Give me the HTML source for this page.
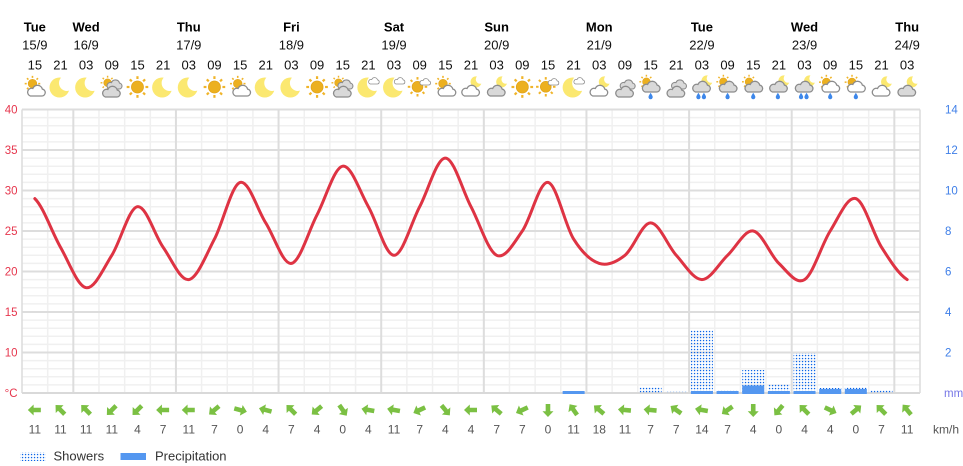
<!DOCTYPE html>
<html><head><meta charset="utf-8"><style>
html,body{margin:0;padding:0;background:#fff;}
svg{display:block;font-family:"Liberation Sans",Arial,sans-serif;}
</style></head><body>
<svg width="963" height="466" viewBox="0 0 963 466" xmlns="http://www.w3.org/2000/svg">
<defs>
<pattern id="dots" patternUnits="userSpaceOnUse" x="0" y="0" width="3" height="3"><rect x="0.9" y="0.9" width="1.3" height="1.3" fill="#0a64e8"/></pattern>
<mask id="mk"><rect x="-5" y="-5" width="40" height="40" fill="#fff"/><circle cx="18.5" cy="8" r="8" fill="#000"/></mask>
<g id="sun"><g stroke="#f0b429" stroke-width="2.2"><line x1="20" y1="12" x2="22.8" y2="12"/><line x1="17.66" y1="17.66" x2="19.64" y2="19.64"/><line x1="12" y1="20" x2="12" y2="22.8"/><line x1="6.34" y1="17.66" x2="4.36" y2="19.64"/><line x1="4" y1="12" x2="1.2" y2="12"/><line x1="6.34" y1="6.34" x2="4.36" y2="4.36"/><line x1="12" y1="4" x2="12" y2="1.2"/><line x1="17.66" y1="6.34" x2="19.64" y2="4.36"/></g><circle cx="12" cy="12" r="6" fill="#ecb01f" stroke="#e0a31a" stroke-width="0.8"/></g>
<g id="moon"><circle cx="11" cy="12.5" r="10" fill="#fbe870" mask="url(#mk)"/></g>
<g id="cw"><path d="M6.5 20H18A3.5 3.5 0 0 0 18.5 13.05A5 5 0 0 0 9 12.5A3.75 3.75 0 0 0 6.5 20Z" fill="#fff" stroke="#8c8c8c" stroke-width="1.3"/></g>
<g id="cg"><path d="M6.5 20H18A3.5 3.5 0 0 0 18.5 13.05A5 5 0 0 0 9 12.5A3.75 3.75 0 0 0 6.5 20Z" fill="#d9d9d9" stroke="#8c8c8c" stroke-width="1.3"/></g>
<g id="drop"><path d="M0 -3.2C1.6 -0.8 2.1 0.3 2.1 1.1A2.1 2.1 0 0 1 -2.1 1.1C-2.1 0.3 -1.6 -0.8 0 -3.2Z" fill="#3d87ea"/></g>
<g id="iSun"><use href="#sun"/></g>
<g id="iMoon"><use href="#moon"/></g>
<g id="iSunW"><use href="#sun" transform="translate(1,0) scale(0.72)"/><use href="#cw" transform="translate(1,1)"/></g>
<g id="iSunG2"><use href="#sun" transform="translate(0,0) scale(0.65)"/><use href="#cg" transform="translate(4,-3) scale(0.85)"/><use href="#cg" transform="translate(-1,2)"/></g>
<g id="iCloudG2"><use href="#cg" transform="translate(4,-3) scale(0.85)"/><use href="#cg" transform="translate(-1,2)"/></g>
<g id="iSunS"><use href="#sun" transform="translate(-1,1) scale(0.9)"/><use href="#cw" transform="translate(10,-2) scale(0.6)"/></g>
<g id="iMoonS"><use href="#moon"/><use href="#cw" transform="translate(10,-3) scale(0.6)"/></g>
<g id="iMoonW"><use href="#moon" transform="translate(11,0) scale(0.55)"/><use href="#cw" transform="translate(-1,1)"/></g>
<g id="iMoonG"><use href="#moon" transform="translate(11,0) scale(0.55)"/><use href="#cg" transform="translate(-1,1)"/></g>
<g id="iSunGR"><use href="#sun" transform="translate(0,-1) scale(0.65)"/><use href="#cg" transform="translate(0,-3)"/><use href="#drop" transform="translate(12,21)"/></g>
<g id="iSunWR"><use href="#sun" transform="translate(0,-1) scale(0.68)"/><use href="#cw" transform="translate(0,-3)"/><use href="#drop" transform="translate(12,21)"/></g>
<g id="iMoonGR"><use href="#moon" transform="translate(11,-1) scale(0.55)"/><use href="#cg" transform="translate(-1,-3)"/><use href="#drop" transform="translate(11,21)"/></g>
<g id="iMoonGR2"><use href="#moon" transform="translate(11,-1) scale(0.55)"/><use href="#cg" transform="translate(-1,-3)"/><use href="#drop" transform="translate(8.5,21)"/><use href="#drop" transform="translate(14,21)"/></g>
<path id="arr" d="M-7 0L-1.2 -5.5L-1.2 -2.3L6 -2.3L6 2.3L-1.2 2.3L-1.2 5.5Z" fill="#7bc043"/>
</defs>

<!-- header -->
<g font-size="13" font-weight="bold" fill="#000" text-anchor="middle">
<text x="34.83" y="31.5">Tue</text><text x="86.14" y="31.5">Wed</text><text x="188.77" y="31.5">Thu</text><text x="291.40" y="31.5">Fri</text><text x="394.03" y="31.5">Sat</text><text x="496.66" y="31.5">Sun</text><text x="599.28" y="31.5">Mon</text><text x="701.91" y="31.5">Tue</text><text x="804.54" y="31.5">Wed</text><text x="907.17" y="31.5">Thu</text>
</g>
<g font-size="13" fill="#111" text-anchor="middle">
<text x="34.83" y="49.5">15/9</text><text x="86.14" y="49.5">16/9</text><text x="188.77" y="49.5">17/9</text><text x="291.40" y="49.5">18/9</text><text x="394.03" y="49.5">19/9</text><text x="496.66" y="49.5">20/9</text><text x="599.28" y="49.5">21/9</text><text x="701.91" y="49.5">22/9</text><text x="804.54" y="49.5">23/9</text><text x="907.17" y="49.5">24/9</text>
</g>
<g font-size="13" fill="#111" text-anchor="middle">
<text x="34.83" y="69.5">15</text><text x="60.49" y="69.5">21</text><text x="86.14" y="69.5">03</text><text x="111.80" y="69.5">09</text><text x="137.46" y="69.5">15</text><text x="163.12" y="69.5">21</text><text x="188.77" y="69.5">03</text><text x="214.43" y="69.5">09</text><text x="240.09" y="69.5">15</text><text x="265.74" y="69.5">21</text><text x="291.40" y="69.5">03</text><text x="317.06" y="69.5">09</text><text x="342.71" y="69.5">15</text><text x="368.37" y="69.5">21</text><text x="394.03" y="69.5">03</text><text x="419.69" y="69.5">09</text><text x="445.34" y="69.5">15</text><text x="471.00" y="69.5">21</text><text x="496.66" y="69.5">03</text><text x="522.31" y="69.5">09</text><text x="547.97" y="69.5">15</text><text x="573.63" y="69.5">21</text><text x="599.28" y="69.5">03</text><text x="624.94" y="69.5">09</text><text x="650.60" y="69.5">15</text><text x="676.26" y="69.5">21</text><text x="701.91" y="69.5">03</text><text x="727.57" y="69.5">09</text><text x="753.23" y="69.5">15</text><text x="778.88" y="69.5">21</text><text x="804.54" y="69.5">03</text><text x="830.20" y="69.5">09</text><text x="855.85" y="69.5">15</text><text x="881.51" y="69.5">21</text><text x="907.17" y="69.5">03</text>
</g>

<!-- icons -->
<use href="#iSunW" x="22.83" y="75"/><use href="#iMoon" x="48.49" y="75"/><use href="#iMoon" x="74.14" y="75"/><use href="#iSunG2" x="99.80" y="75"/><use href="#iSun" x="125.46" y="75"/><use href="#iMoon" x="151.12" y="75"/><use href="#iMoon" x="176.77" y="75"/><use href="#iSun" x="202.43" y="75"/><use href="#iSunW" x="228.09" y="75"/><use href="#iMoon" x="253.74" y="75"/><use href="#iMoon" x="279.40" y="75"/><use href="#iSun" x="305.06" y="75"/><use href="#iSunG2" x="330.71" y="75"/><use href="#iMoonS" x="356.37" y="75"/><use href="#iMoonS" x="382.03" y="75"/><use href="#iSunS" x="407.69" y="75"/><use href="#iSunW" x="433.34" y="75"/><use href="#iMoonW" x="459.00" y="75"/><use href="#iMoonG" x="484.66" y="75"/><use href="#iSun" x="510.31" y="75"/><use href="#iSunS" x="535.97" y="75"/><use href="#iMoonS" x="561.63" y="75"/><use href="#iMoonW" x="587.28" y="75"/><use href="#iCloudG2" x="612.94" y="75"/><use href="#iSunGR" x="638.60" y="75"/><use href="#iCloudG2" x="664.26" y="75"/><use href="#iMoonGR2" x="689.91" y="75"/><use href="#iSunGR" x="715.57" y="75"/><use href="#iSunGR" x="741.23" y="75"/><use href="#iMoonGR" x="766.88" y="75"/><use href="#iMoonGR2" x="792.54" y="75"/><use href="#iSunWR" x="818.20" y="75"/><use href="#iSunWR" x="843.85" y="75"/><use href="#iMoonW" x="869.51" y="75"/><use href="#iMoonG" x="895.17" y="75"/>

<!-- grid -->
<path fill="none" stroke="#f0f0f0" stroke-width="1.5" d="M22 384.9H920M22 376.8H920M22 368.7H920M22 360.6H920M22 344.4H920M22 336.3H920M22 328.2H920M22 320.1H920M22 303.9H920M22 295.8H920M22 287.7H920M22 279.6H920M22 263.4H920M22 255.3H920M22 247.2H920M22 239.1H920M22 222.9H920M22 214.8H920M22 206.7H920M22 198.6H920M22 182.4H920M22 174.3H920M22 166.2H920M22 158.1H920M22 141.9H920M22 133.8H920M22 125.7H920M22 117.6H920"/>
<path fill="none" stroke="#f0f0f0" stroke-width="1.5" d="M47.66 109.5V393M98.97 109.5V393M124.63 109.5V393M150.29 109.5V393M201.6 109.5V393M227.26 109.5V393M252.91 109.5V393M304.23 109.5V393M329.88 109.5V393M355.54 109.5V393M406.86 109.5V393M432.51 109.5V393M458.17 109.5V393M509.48 109.5V393M535.14 109.5V393M560.8 109.5V393M612.11 109.5V393M637.77 109.5V393M663.43 109.5V393M714.74 109.5V393M740.4 109.5V393M766.05 109.5V393M817.37 109.5V393M843.02 109.5V393M868.68 109.5V393"/>
<path fill="none" stroke="#dddddd" stroke-width="2" d="M22 352.5H920M22 312H920M22 271.5H920M22 231H920M22 190.5H920M22 150H920M22 109.5H920M73.31 109.5V393M175.94 109.5V393M278.57 109.5V393M381.2 109.5V393M483.83 109.5V393M586.45 109.5V393M689.08 109.5V393M791.71 109.5V393M894.34 109.5V393"/>
<path fill="none" stroke="#dcdcdc" stroke-width="1.5" d="M22 109.5V393M920 109.5V393"/>
<path fill="none" stroke="#d9d9d9" stroke-width="2" d="M22 393H920"/>

<!-- precipitation -->
<g fill="url(#dots)">
<rect x="639.6" y="387.5" width="22" height="6"/>
<rect x="665.26" y="391.5" width="22" height="2" opacity="0.4"/>
<rect x="690.91" y="330.5" width="22" height="63"/>
<rect x="716.57" y="389.5" width="22" height="4"/>
<rect x="742.23" y="370" width="22" height="23.5"/>
<rect x="767.88" y="384.5" width="22" height="9"/>
<rect x="793.54" y="353" width="22" height="40.5"/>
<rect x="819.2" y="388" width="22" height="5.5"/>
<rect x="844.85" y="387.5" width="22" height="6"/>
<rect x="870.51" y="390.5" width="22" height="3"/>
</g>
<g fill="#5497f0">
<rect x="562.63" y="391" width="22" height="3"/>
<rect x="690.91" y="391" width="22" height="3"/>
<rect x="716.57" y="391" width="22" height="3"/>
<rect x="742.23" y="385.5" width="22" height="8.5"/>
<rect x="767.88" y="391" width="22" height="3"/>
<rect x="793.54" y="391" width="22" height="3"/>
<rect x="819.2" y="389" width="22" height="5"/>
<rect x="844.85" y="389" width="22" height="5"/>
</g>

<!-- temperature -->
<path transform="matrix(25.657 0 0 -8.1 34.83 433.5)" vector-effect="non-scaling-stroke" fill="none" stroke="#de3343" stroke-width="3" stroke-linejoin="round" stroke-linecap="round" d="M0 29C0.333 28 0.667 24.833 1 23S1.667 18.167 2 18S2.667 20.333 3 22S3.667 27.833 4 28S4.667 24.5 5 23S5.667 18.833 6 19S6.667 22 7 24S7.667 30.667 8 31S8.667 27.667 9 26S9.667 20.833 10 21S10.667 25 11 27S11.667 32.833 12 33S12.667 29.833 13 28S13.667 22 14 22S14.667 26 15 28S15.667 34 16 34S16.667 30 17 28S17.667 22.5 18 22S18.667 23.5 19 25S19.667 31.167 20 31S20.667 25.667 21 24S21.667 21.333 22 21S22.667 21.167 23 22S23.667 26 24 26S24.667 23.167 25 22S25.667 19 26 19S26.667 21 27 22S27.667 25.167 28 25S28.667 22 29 21S29.667 18.333 30 19S30.667 23.333 31 25S31.667 29.333 32 29S32.667 24.667 33 23S33.667 19.667 34 19"/>

<!-- axis labels -->
<g font-size="11.5" fill="#e6364d" text-anchor="end">
<text x="17.5" y="113.5">40</text><text x="17.5" y="154">35</text><text x="17.5" y="194.5">30</text><text x="17.5" y="235">25</text><text x="17.5" y="275.5">20</text><text x="17.5" y="316">15</text><text x="17.5" y="356.5">10</text><text x="17.5" y="397">°C</text>
</g>
<g font-size="11.5" fill="#3f7fe8">
<text x="945" y="113.5">14</text><text x="945" y="154">12</text><text x="945" y="194.5">10</text><text x="945" y="235">8</text><text x="945" y="275.5">6</text><text x="945" y="316">4</text><text x="945" y="356.5">2</text><text x="944" y="397" fill="#7676e6">mm</text>
</g>

<!-- wind arrows -->
<use href="#arr" transform="translate(34.83,410) rotate(0)"/><use href="#arr" transform="translate(60.49,410) rotate(45)"/><use href="#arr" transform="translate(86.14,410) rotate(45)"/><use href="#arr" transform="translate(111.8,410) rotate(-45)"/><use href="#arr" transform="translate(137.46,410) rotate(-45)"/><use href="#arr" transform="translate(163.12,410) rotate(0)"/><use href="#arr" transform="translate(188.77,410) rotate(0)"/><use href="#arr" transform="translate(214.43,410) rotate(-40)"/><use href="#arr" transform="translate(240.09,410) rotate(195)"/><use href="#arr" transform="translate(265.74,410) rotate(15)"/><use href="#arr" transform="translate(291.4,410) rotate(45)"/><use href="#arr" transform="translate(317.06,410) rotate(-40)"/><use href="#arr" transform="translate(342.71,410) rotate(-125)"/><use href="#arr" transform="translate(368.37,410) rotate(10)"/><use href="#arr" transform="translate(394.03,410) rotate(10)"/><use href="#arr" transform="translate(419.69,410) rotate(-25)"/><use href="#arr" transform="translate(445.34,410) rotate(-130)"/><use href="#arr" transform="translate(471,410) rotate(0)"/><use href="#arr" transform="translate(496.66,410) rotate(40)"/><use href="#arr" transform="translate(522.31,410) rotate(-25)"/><use href="#arr" transform="translate(547.97,410) rotate(-90)"/><use href="#arr" transform="translate(573.63,410) rotate(55)"/><use href="#arr" transform="translate(599.28,410) rotate(40)"/><use href="#arr" transform="translate(624.94,410) rotate(5)"/><use href="#arr" transform="translate(650.6,410) rotate(5)"/><use href="#arr" transform="translate(676.26,410) rotate(35)"/><use href="#arr" transform="translate(701.91,410) rotate(10)"/><use href="#arr" transform="translate(727.57,410) rotate(-35)"/><use href="#arr" transform="translate(753.23,410) rotate(-90)"/><use href="#arr" transform="translate(778.88,410) rotate(-50)"/><use href="#arr" transform="translate(804.54,410) rotate(45)"/><use href="#arr" transform="translate(830.2,410) rotate(205)"/><use href="#arr" transform="translate(855.85,410) rotate(140)"/><use href="#arr" transform="translate(881.51,410) rotate(45)"/><use href="#arr" transform="translate(907.17,410) rotate(50)"/>

<!-- wind speeds -->
<g font-size="12" fill="#555" text-anchor="middle">
<text x="34.83" y="433.5">11</text><text x="60.49" y="433.5">11</text><text x="86.14" y="433.5">11</text><text x="111.8" y="433.5">11</text><text x="137.46" y="433.5">4</text><text x="163.12" y="433.5">7</text><text x="188.77" y="433.5">11</text><text x="214.43" y="433.5">7</text><text x="240.09" y="433.5">0</text><text x="265.74" y="433.5">4</text><text x="291.4" y="433.5">7</text><text x="317.06" y="433.5">4</text><text x="342.71" y="433.5">0</text><text x="368.37" y="433.5">4</text><text x="394.03" y="433.5">11</text><text x="419.69" y="433.5">7</text><text x="445.34" y="433.5">4</text><text x="471" y="433.5">4</text><text x="496.66" y="433.5">7</text><text x="522.31" y="433.5">7</text><text x="547.97" y="433.5">0</text><text x="573.63" y="433.5">11</text><text x="599.28" y="433.5">18</text><text x="624.94" y="433.5">11</text><text x="650.6" y="433.5">7</text><text x="676.26" y="433.5">7</text><text x="701.91" y="433.5">14</text><text x="727.57" y="433.5">7</text><text x="753.23" y="433.5">4</text><text x="778.88" y="433.5">0</text><text x="804.54" y="433.5">4</text><text x="830.2" y="433.5">4</text><text x="855.85" y="433.5">0</text><text x="881.51" y="433.5">7</text><text x="907.17" y="433.5">11</text>
</g>
<text x="933" y="433.5" font-size="12" fill="#555">km/h</text>

<!-- legend -->
<rect x="20" y="452" width="26" height="9" fill="url(#dots)"/>
<text x="53.5" y="460.5" font-size="13" fill="#333">Showers</text>
<rect x="120.5" y="453" width="25.5" height="7" fill="#5497f0"/>
<text x="155" y="460.5" font-size="13" fill="#333">Precipitation</text>
</svg>
</body></html>
